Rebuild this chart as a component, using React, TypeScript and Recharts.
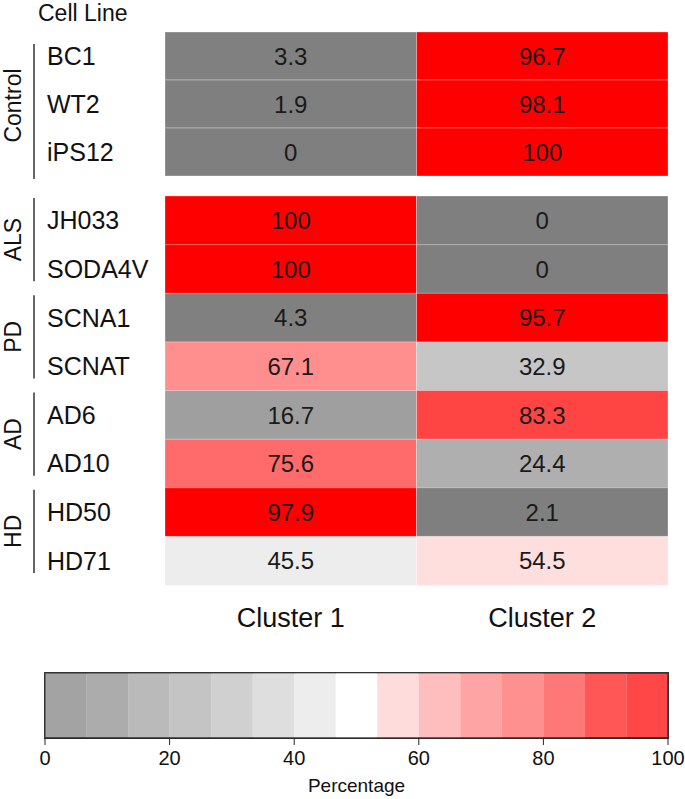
import React from "react";
import { BarChart, Bar, XAxis, YAxis, Cell, LabelList, ReferenceArea } from "recharts";

const groups = ["Control", "ALS", "PD", "AD", "HD"];
const groupSizes = [3, 2, 2, 2, 2];
const cellLines = ["BC1", "WT2", "iPS12", "JH033", "SODA4V", "SCNA1", "SCNAT", "AD6", "AD10", "HD50", "HD71"];
const cluster1 = [3.3, 1.9, 0, 100, 100, 4.3, 67.1, 16.7, 75.6, 97.9, 45.5];
const cluster2 = [96.7, 98.1, 100, 0, 0, 95.7, 32.9, 83.3, 24.4, 2.1, 54.5];
const clusters = ["Cluster 1", "Cluster 2"];
const legendTicks = [0, 20, 40, 60, 80, 100];
const legendBins = 15;

// palette: grey -> white -> red
const stops: [number, number, number, number][] = [
  [0, 127, 127, 127],
  [6, 128, 128, 128],
  [17, 160, 160, 160],
  [25, 176, 176, 176],
  [33, 198, 198, 198],
  [45, 235, 235, 235],
  [50, 255, 255, 255],
  [55, 255, 218, 218],
  [67, 255, 142, 142],
  [76, 255, 104, 104],
  [83, 255, 70, 70],
  [93, 255, 0, 0],
  [100, 255, 0, 0],
];

function colorFor(v: number) {
  for (let i = 1; i < stops.length; i++) {
    const a = stops[i - 1];
    const b = stops[i];
    if (v <= b[0]) {
      const t = (v - a[0]) / (b[0] - a[0]);
      const c = [1, 2, 3].map((k) => Math.round(a[k] + (b[k] - a[k]) * t));
      return `rgb(${c[0]},${c[1]},${c[2]})`;
    }
  }
  return "rgb(255,0,0)";
}

const rows = cellLines.map((name, i) => ({ name, c1: cluster1[i], c2: cluster2[i], w1: 1, w2: 1 }));

const groupStart: number[] = [];
const groupOfRow: number[] = [];
groupSizes.reduce((start, n, g) => {
  groupStart.push(start);
  for (let k = 0; k < n; k++) groupOfRow.push(g);
  return start + n;
}, 0);

const legendRow: Record<string, number | string> = { name: "p" };
for (let i = 0; i < legendBins; i++) legendRow["b" + i] = 100 / legendBins;

function RowTick(props: any) {
  const { y, payload, band } = props;
  const i = cellLines.indexOf(payload.value);
  const g = groupOfRow[i];
  const first = groupStart[g] === i;
  let group = null;
  if (first) {
    // control bracket sits a bit lower in the original
    const shift = g === 0 ? 10 : 0;
    const top = y - band / 2 + 2 + shift;
    const bottom = y - band / 2 + groupSizes[g] * band - 12 + shift * 1.5;
    const mid = (top + bottom) / 2 - (g === 0 ? 6 : 0);
    group = (
      <g>
        <line x1={34} x2={34} y1={top} y2={bottom} stroke="#333" strokeWidth={1.5} />
        <text x={13} y={mid} fontSize={23} textAnchor="middle" dominantBaseline="central" fill="#111"
          transform={`rotate(-90 13 ${mid})`}>{groups[g]}</text>
      </g>
    );
  }
  return (
    <g>
      <text x={47} y={y} fontSize={25} dominantBaseline="central" fill="#111">{payload.value}</text>
      {group}
    </g>
  );
}

function Block({ data, top, height, marginTop, showX }: any) {
  const xH = showX ? 55 : 0;
  const bottomMargin = showX ? 0 : 4;
  const band = (height - marginTop - bottomMargin - xH) / data.length;
  return (
    <div style={{ position: "absolute", left: 0, top }}>
      <BarChart width={685} height={height} data={data} layout="vertical" barCategoryGap={0}
        margin={{ top: marginTop, right: 17, bottom: bottomMargin, left: 0 }}>
        <XAxis type="number" domain={[0, 2]} ticks={[0.5, 1.5]} hide={!showX} height={xH}
          tickFormatter={(v: number) => clusters[Math.floor(v)]} axisLine={false} tickLine={false}
          tickSize={0} tickMargin={23} tick={{ fontSize: 27, fill: "#111" }} />
        <YAxis type="category" dataKey="name" width={165} axisLine={false} tickLine={false}
          tick={(p: any) => <RowTick {...p} band={band} />} />
        <Bar dataKey="w1" stackId="a" isAnimationActive={false}>
          {data.map((d: any) => (
            <Cell key={d.name} fill={colorFor(d.c1)} stroke="rgba(255,255,255,0.3)" strokeWidth={1} />
          ))}
          <LabelList dataKey="c1" position="center" fontSize={24} fill="#1a1a1a" />
        </Bar>
        <Bar dataKey="w2" stackId="a" isAnimationActive={false}>
          {data.map((d: any) => (
            <Cell key={d.name} fill={colorFor(d.c2)} stroke="rgba(255,255,255,0.3)" strokeWidth={1} />
          ))}
          <LabelList dataKey="c2" position="center" fontSize={24} fill="#1a1a1a" />
        </Bar>
      </BarChart>
    </div>
  );
}

export default function App() {
  const ctrl = rows.slice(0, groupSizes[0]);
  const rest = rows.slice(groupSizes[0]);
  return (
    <div style={{ position: "absolute", left: 0, top: 0, width: 685, height: 799, background: "#fff",
      fontFamily: "'Liberation Sans', Arial, sans-serif" }}>
      <div style={{ position: "absolute", left: 38, top: 1, fontSize: 23, color: "#111", lineHeight: "25px" }}>
        Cell Line
      </div>
      <Block data={ctrl} top={0} height={180} marginTop={32} showX={false} />
      <Block data={rest} top={180} height={460} marginTop={16} showX={true} />
      <div style={{ position: "absolute", left: 0, top: 660 }}>
        <BarChart width={685} height={139} data={[legendRow]} layout="vertical" barCategoryGap={0}
          margin={{ top: 13, right: 17, bottom: 0, left: 45 }}>
          <XAxis type="number" domain={[0, 100]} ticks={legendTicks} height={61} stroke="#222"
            tickSize={7} tickMargin={6} tick={{ fontSize: 20, fill: "#111" }}
            label={{ value: "Percentage", position: "insideBottom", offset: 7, fontSize: 19, fill: "#111" }} />
          <YAxis type="category" dataKey="name" hide />
          {Array.from({ length: legendBins }, (_, i) => (
            <Bar key={i} dataKey={"b" + i} stackId="l" isAnimationActive={false}
              fill={colorFor(((i + 0.5) * 100) / legendBins)} fillOpacity={0.72} />
          ))}
          <ReferenceArea x1={0} x2={100} fill="none" stroke="#333" strokeWidth={2} />
        </BarChart>
      </div>
    </div>
  );
}
